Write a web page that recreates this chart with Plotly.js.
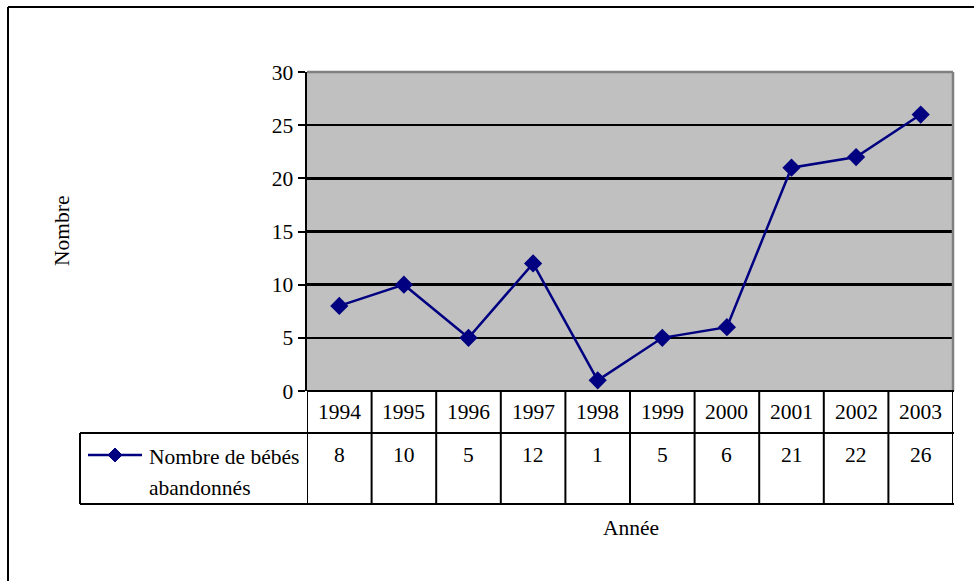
<!DOCTYPE html>
<html>
<head>
<meta charset="utf-8">
<script src="https://cdn.plot.ly/plotly-3.0.1.min.js"></script>
<style>html,body{margin:0;padding:0;background:#fff;}#chart{width:974px;height:581px;}</style>
</head>
<body>
<div id="chart"></div>
<script>
const years = ["1994","1995","1996","1997","1998","1999","2000","2001","2002","2003"];
const values = [8, 10, 5, 12, 1, 5, 6, 21, 22, 26];
const seriesName = ["Nombre de bébés", "abandonnés"];
const yTitle = "Nombre";
const xTitle = "Année";
const yTicks = [0, 5, 10, 15, 20, 25, 30];

const W = 974, H = 581;
const L = 307, R = 21, T = 72, B = 190;
const pw = W - L - R, ph = H - T - B;
const px = p => (p - L) / pw;
const py = p => (H - B - p) / ph;
const FONT = "Liberation Serif, Times New Roman, serif";
const FS = 21.5;
const navy = "#000080";

const shapes = [];
const ann = [];
const line = (x0, y0, x1, y1, xref, color, w) => shapes.push({
  type: "line", xref: xref || "paper", yref: "paper", x0, y0, x1, y1,
  line: {color: color || "#000", width: w || 2}, layer: "above"
});

// outer frame
line(px(8), py(7), px(990), py(7));
line(px(8), py(7), px(8), py(600));
// plot area top/right gray border
line(px(307), py(72), px(953), py(72), "paper", "#808080", 2.5);
line(px(953), py(72), px(953), py(391), "paper", "#808080", 2.5);

// table
const yTop = py(391), yMid = py(433), yBot = py(504);
line(px(307), yTop, px(954), yTop);
line(px(80), yMid, px(954), yMid);
line(px(80), yBot, px(954), yBot);
line(px(80), yMid, px(80), yBot);
for (let k = 0; k <= years.length; k++) {
  shapes.push({type: "line", xref: "x", yref: "paper", x0: k - 0.5, x1: k - 0.5, y0: yTop, y1: yBot,
    line: {color: "#000", width: 2}, layer: "above"});
}
years.forEach((yr, i) => {
  ann.push({xref: "x", yref: "paper", x: i, y: py(412), text: yr, showarrow: false,
    xanchor: "center", yanchor: "middle", font: {family: FONT, size: FS, color: "#000"}});
  ann.push({xref: "x", yref: "paper", x: i, y: py(455), text: String(values[i]), showarrow: false,
    xanchor: "center", yanchor: "middle", font: {family: FONT, size: FS, color: "#000"}});
});
// legend key
line(px(88), py(455), px(142), py(455), "paper", navy, 2.5);
const cx = 115, cy = 455, d = 7;
shapes.push({type: "path", xref: "paper", yref: "paper",
  path: `M ${px(cx)} ${py(cy - d)} L ${px(cx + d)} ${py(cy)} L ${px(cx)} ${py(cy + d)} L ${px(cx - d)} ${py(cy)} Z`,
  fillcolor: navy, line: {color: navy, width: 1}, layer: "above"});
ann.push({xref: "paper", yref: "paper", x: px(147), y: py(457), text: seriesName[0], showarrow: false,
  xanchor: "left", yanchor: "middle", font: {family: FONT, size: FS, color: "#000"}});
ann.push({xref: "paper", yref: "paper", x: px(147), y: py(488), text: seriesName[1], showarrow: false,
  xanchor: "left", yanchor: "middle", font: {family: FONT, size: FS, color: "#000"}});
// axis titles
ann.push({xref: "paper", yref: "paper", x: px(62), y: py(231), text: yTitle, showarrow: false, textangle: -90,
  xanchor: "center", yanchor: "middle", font: {family: FONT, size: FS, color: "#000"}});
ann.push({xref: "paper", yref: "paper", x: px(631), y: py(528), text: xTitle, showarrow: false,
  xanchor: "center", yanchor: "middle", font: {family: FONT, size: FS, color: "#000"}});

const trace = {
  x: years, y: values, type: "scatter", mode: "lines+markers",
  line: {color: navy, width: 2.5},
  marker: {symbol: "diamond", size: 14, color: navy},
  hoverinfo: "x+y", showlegend: false, cliponaxis: false
};

const layout = {
  width: W, height: H,
  margin: {l: L, r: R, t: T, b: B, pad: 0},
  paper_bgcolor: "#fff", plot_bgcolor: "#c0c0c0",
  showlegend: false,
  font: {family: FONT, size: FS, color: "#000"},
  xaxis: {type: "category", range: [-0.5, years.length - 0.5], showticklabels: false,
    showgrid: false, zeroline: false, showline: false, ticks: "", fixedrange: true},
  yaxis: {range: [0, 30], tickvals: yTicks, ticktext: yTicks.map(String),
    showgrid: true, gridcolor: "#000", gridwidth: 2.5, zeroline: false,
    showline: true, linecolor: "#000", linewidth: 2.5,
    ticks: "outside", ticklen: 7, tickwidth: 2, tickcolor: "#000",
    tickfont: {family: FONT, size: FS, color: "#000"}, fixedrange: true},
  shapes, annotations: ann
};

Plotly.newPlot("chart", [trace], layout, {displayModeBar: false, staticPlot: true});
</script>
</body>
</html>
